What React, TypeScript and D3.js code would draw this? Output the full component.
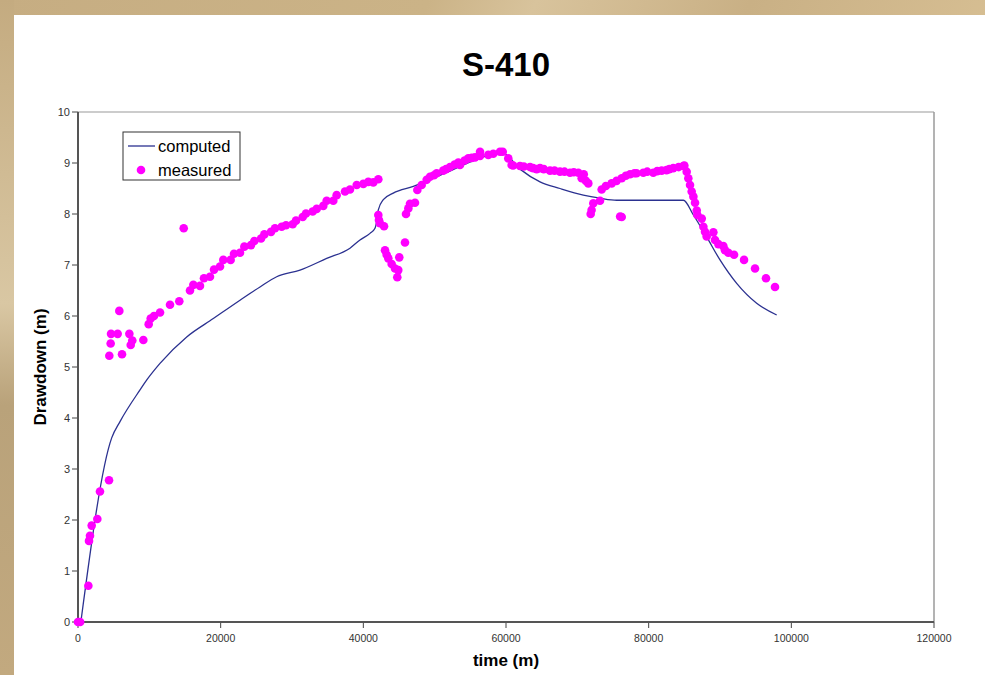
import React from "react";
import * as d3 from "d3";

const computedX = [400, 4724, 5888, 8692, 9718, 11495, 15240, 18970, 22710, 25515, 27855, 31120, 34865, 38130, 39530, 40935, 41635, 41870, 42100, 42800, 44200, 47005, 51450, 55000, 57500, 59500, 61960, 64770, 67570, 70840, 73180, 75520, 84870, 86270, 88130, 90000, 92340, 95140, 97950];
const computedY = [0, 3.61, 3.93, 4.55, 4.76, 5.07, 5.59, 5.95, 6.31, 6.57, 6.77, 6.9, 7.13, 7.33, 7.49, 7.62, 7.72, 7.85, 8.08, 8.28, 8.41, 8.54, 8.8, 9.02, 9.15, 9.2, 8.88, 8.63, 8.5, 8.37, 8.31, 8.27, 8.27, 7.98, 7.55, 7.1, 6.64, 6.25, 6.02];

const measuredX = [0, 300, 1450, 1540, 1680, 1920, 2710, 3080, 4350,
  4390, 4580, 4630, 5560, 5790, 6170, 7200, 7390, 7610, 9160, 9910, 10190, 10650, 11500, 12900, 14200, 14820,
  15700, 16170, 17100, 17660, 18500, 19070, 19910, 20370, 21400, 21870, 22710, 23320, 24250, 24720, 25660, 26120,
  27060, 27620, 28550, 29160, 30100, 30560, 31500, 31960, 32900, 33460, 34390, 34860, 35790, 36260,
  37430, 38130, 39070, 40000, 40700, 41400, 42100,
  42100, 42190, 42330, 42900, 43040, 43270, 43500, 43970, 44440, 44900, 44760, 45040, 45840, 45980, 46310, 46540,
  47240, 47570, 48180, 48880, 49350, 49900, 50280, 51200, 51600, 52150, 52800, 53320, 53550, 54200, 54720, 55200, 55660, 56360, 56360, 57520, 58220, 59160, 59540,
  60320, 60790, 61000, 61960, 62500, 63370, 63800, 64300, 64770, 65300, 66170, 66800, 67570, 68200, 68970, 69500, 70140, 70610, 70900, 71200, 71540, 73410,
  72240, 72000, 71870, 73180, 76220, 76000,
  74000, 74810, 75500, 76220, 76800, 77390, 78000, 78300, 79250, 79800, 80650, 81200, 81820, 82500, 82900, 83450, 84200, 84870, 85000,
  85330, 85560, 85800, 86030, 86270, 86500, 86740, 86830, 87440, 87670, 87900, 88130, 89070, 89300, 89770, 90470, 90700, 91170, 91970, 93370, 94910, 96450, 97710];
const measuredY = [0, 0, 0.71, 1.59, 1.69, 1.89, 2.02, 2.56, 2.78,
  5.22, 5.46, 5.65, 5.65, 6.1, 5.25, 5.65, 5.43, 5.52, 5.53, 5.84, 5.95, 6.0, 6.07, 6.22, 6.29, 7.72,
  6.5, 6.61, 6.59, 6.74, 6.77, 6.91, 6.97, 7.1, 7.1, 7.22, 7.24, 7.36, 7.39, 7.47, 7.52, 7.6,
  7.65, 7.72, 7.75, 7.78, 7.8, 7.87, 7.94, 8.01, 8.05, 8.1, 8.16, 8.26, 8.26, 8.37,
  8.44, 8.48, 8.57, 8.59, 8.63, 8.62, 8.68,
  7.98, 7.88, 7.82, 7.76, 7.29, 7.2, 7.13, 7.02, 6.93, 6.9, 6.76, 7.15, 7.44, 8.0, 8.11, 8.2,
  8.22, 8.47, 8.57, 8.67, 8.73, 8.76, 8.8, 8.85, 8.88, 8.92, 8.97, 9.01, 8.96, 9.05, 9.09, 9.1, 9.11, 9.22, 9.14, 9.16, 9.18, 9.22, 9.22,
  9.09, 8.96, 8.95, 8.94, 8.93, 8.92, 8.9, 8.88, 8.9, 8.88, 8.85, 8.85, 8.83, 8.83, 8.81, 8.82, 8.81, 8.7, 8.78, 8.65, 8.6, 8.48,
  8.21, 8.08, 8.0, 8.26, 7.94, 7.95,
  8.55, 8.6, 8.65, 8.7, 8.75, 8.78, 8.8, 8.8, 8.81, 8.83, 8.81, 8.84, 8.85, 8.86, 8.88, 8.9, 8.92, 8.94, 8.95,
  8.83, 8.7, 8.57, 8.44, 8.34, 8.22, 8.07, 7.98, 7.91, 7.75, 7.65, 7.56, 7.64, 7.49, 7.41, 7.37, 7.29, 7.24, 7.2, 7.1, 6.93, 6.74, 6.57];

const xTicks = [0, 20000, 40000, 60000, 80000, 100000, 120000];
const yTicks = [0, 1, 2, 3, 4, 5, 6, 7, 8, 9, 10];

const W = 985;
const H = 675;

export default function App() {
  const x = d3.scaleLinear().domain([0, 120000]).range([78, 934]);
  const y = d3.scaleLinear().domain([0, 10]).range([622, 112]);
  const lineData = computedX.map((v, i) => [v, computedY[i]] as [number, number]);
  const line = d3.line<[number, number]>().x(d => x(d[0])).y(d => y(d[1])).curve(d3.curveMonotoneX);
  const font = "Liberation Sans, Arial, sans-serif";
  return (
    <svg width={W} height={H} style={{ position: "fixed", left: 0, top: 0 }} fontFamily={font}>
      <defs>
        <linearGradient id="tan" x1="0" y1="0" x2="1" y2="0.3">
          <stop offset="0" stopColor="#c6ad82" />
          <stop offset="0.4" stopColor="#cbb387" />
          <stop offset="0.5" stopColor="#d8c39c" />
          <stop offset="0.7" stopColor="#c9b085" />
          <stop offset="1" stopColor="#dac296" />
        </linearGradient>
        <linearGradient id="tanL" x1="0" y1="0" x2="0" y2="1">
          <stop offset="0" stopColor="#c4ab80" />
          <stop offset="0.45" stopColor="#d9c7a3" />
          <stop offset="0.6" stopColor="#b9a27a" />
          <stop offset="1" stopColor="#c2a97f" />
        </linearGradient>
      </defs>
      <rect x={0} y={0} width={W} height={H} fill="url(#tan)" />
      <rect x={0} y={0} width={14} height={H} fill="url(#tanL)" />
      <rect x={14} y={15} width={W - 14} height={H - 15} fill="#ffffff" />

      <text x={506} y={76} textAnchor="middle" fontSize={33} fontWeight="bold" fill="#000">S-410</text>

      {/* plot frame */}
      <line x1={78} x2={934} y1={112} y2={112} stroke="#9a9a9a" strokeWidth={1.2} />
      <line x1={934} x2={934} y1={112} y2={622} stroke="#9a9a9a" strokeWidth={1.5} />

      {/* axes ticks and labels */}
      {yTicks.map(t => (
        <g key={"y" + t}>
          <line x1={72} x2={78} y1={y(t)} y2={y(t)} stroke="#444" strokeWidth={1} />
          <text x={70} y={y(t) + 4} textAnchor="end" fontSize={11} fill="#333">{t}</text>
        </g>
      ))}
      {xTicks.map(t => (
        <g key={"x" + t}>
          <line x1={x(t)} x2={x(t)} y1={622} y2={628} stroke="#444" strokeWidth={1} />
          <text x={x(t)} y={642} textAnchor="middle" fontSize={10.5} fill="#333">{t}</text>
        </g>
      ))}
      <line x1={78} x2={78} y1={112} y2={623} stroke="#555" strokeWidth={2} />
      <line x1={77} x2={934} y1={622} y2={622} stroke="#555" strokeWidth={2} />

      <text transform="translate(46,367) rotate(-90)" textAnchor="middle" fontSize={17} fontWeight="bold" fill="#000">Drawdown (m)</text>
      <text x={506} y={666} textAnchor="middle" fontSize={17} fontWeight="bold" fill="#000">time (m)</text>

      {/* computed line */}
      <path d={line(lineData) || ""} fill="none" stroke="#2b3190" strokeWidth={1.3} />

      {/* measured points */}
      {measuredX.map((v, i) => (
        <circle key={"m" + i} cx={x(v)} cy={y(measuredY[i])} r={4.3} fill="#ff00ff" />
      ))}

      {/* legend */}
      <rect x={123} y={132} width={117} height={48} fill="#fff" stroke="#333" strokeWidth={1} />
      <line x1={128} x2={155} y1={146} y2={146} stroke="#2b3190" strokeWidth={1.3} />
      <text x={158} y={152} fontSize={16.5} fill="#000">computed</text>
      <circle cx={141} cy={170} r={4.3} fill="#ff00ff" />
      <text x={158} y={176} fontSize={16.5} fill="#000">measured</text>
    </svg>
  );
}
